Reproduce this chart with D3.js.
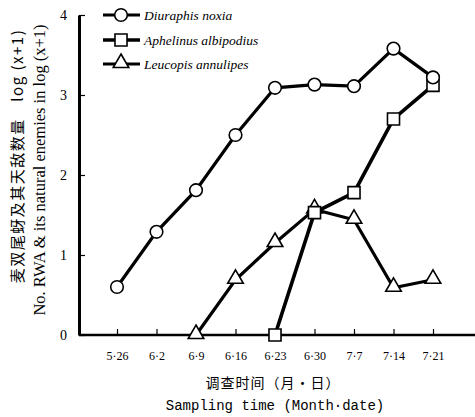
<!DOCTYPE html>
<html><head><meta charset="utf-8">
<script src="https://cdn.jsdelivr.net/npm/d3@7"></script>
<style>body{margin:0;background:#fff}svg{display:block}</style>
</head><body>
<script>
const dates = ["5·26","6·2","6·9","6·16","6·23","6·30","7·7","7·14","7·21"];
const diuraphis = [0.60,1.29,1.81,2.50,3.09,3.13,3.11,3.58,3.22];
const aphelinus = [null,null,null,null,0,1.53,1.78,2.70,3.12];
const leucopis = [null,null,0,0.69,1.15,1.57,1.44,0.59,0.69];
const yTicks = [0,1,2,3,4];
const seriesNames = ["Diuraphis noxia","Aphelinus albipodius","Leucopis annulipes"];

const W=475,H=417;
const svg=d3.select("body").append("svg").attr("width",W).attr("height",H);
const x=d3.scalePoint().domain(dates).range([117,433]);
const y=d3.scaleLinear().domain([0,4]).range([335,15]);
const serif="'Liberation Serif','Times New Roman',serif";

// axes
const xAxis=svg.append("g").attr("transform","translate(0,335)")
  .call(d3.axisBottom(x).tickSize(-6).tickSizeOuter(0).tickPadding(16));
xAxis.select(".domain").attr("d","M79,0H475").attr("stroke-width",2.5);
xAxis.selectAll(".tick line").attr("stroke-width",1.2);
xAxis.selectAll("text").attr("font-family",serif).attr("font-size",12);

const yAxis=svg.append("g").attr("transform","translate(79,0)")
  .call(d3.axisLeft(y).tickValues(yTicks).tickSize(-6).tickSizeOuter(0).tickPadding(12).tickFormat(d3.format("d")));
yAxis.select(".domain").attr("stroke-width",3);
yAxis.selectAll(".tick line").attr("stroke-width",1.2);
yAxis.selectAll("text").attr("font-family",serif).attr("font-size",14);

// lines
const line=d3.line().defined(d=>d.v!=null).x(d=>x(d.k)).y(d=>y(d.v));
const sets=[diuraphis,aphelinus,leucopis].map(a=>a.map((v,i)=>({k:dates[i],v})));
const lw=[3.2,3.6,3.2];
sets.forEach((s,i)=>{
  svg.append("path").datum(s).attr("d",line).attr("fill","none").attr("stroke","#000").attr("stroke-width",lw[i]);
});
// markers
const sym=[d3.symbolCircle,d3.symbolSquare,d3.symbolTriangle];
const sz=[125,145,105];
function marker(g,t,cx,cy){
  g.append("path").attr("d",d3.symbol().type(sym[t]).size(sz[t])())
   .attr("transform",`translate(${cx},${cy + (t==2?-1:0)})`)
   .attr("fill","#fff").attr("stroke","#000").attr("stroke-width",1.6);
}
[2,1,0].forEach(t=>{
  sets[t].filter(d=>d.v!=null).forEach(d=>marker(svg,t,x(d.k),y(d.v)));
});

// legend
const ly=[15,40,64];
seriesNames.forEach((n,i)=>{
  svg.append("line").attr("x1",103).attr("x2",140).attr("y1",ly[i]).attr("y2",ly[i]).attr("stroke","#000").attr("stroke-width",lw[i]);
  marker(svg,i,121,ly[i]);
  svg.append("text").attr("x",144).attr("y",ly[i]+4.5).attr("font-family",serif).attr("font-style","italic").attr("font-size",13.5).text(n);
});

// axis titles
svg.append("text").attr("transform","translate(23,156) rotate(-90)").attr("text-anchor","middle")
  .attr("font-family","'Noto Sans CJK SC',sans-serif").attr("font-size",15).attr("letter-spacing",1.5)
  .text("麦双尾蚜及其天敌数量　log (x+1)");
svg.append("text").attr("transform","translate(45,170) rotate(-90)").attr("text-anchor","middle")
  .attr("font-family",serif).attr("font-size",16.5)
  .text("No. RWA & its natural enemies in log (x+1)");
svg.append("text").attr("x",273).attr("y",388).attr("text-anchor","middle")
  .attr("font-family","'Noto Sans CJK SC',sans-serif").attr("font-size",14).attr("letter-spacing",1)
  .text("调查时间（月·日）");
svg.append("text").attr("x",275).attr("y",410).attr("text-anchor","middle")
  .attr("font-family","'Liberation Mono',monospace").attr("font-size",14)
  .text("Sampling time (Month·date)");
</script>
</body></html>
